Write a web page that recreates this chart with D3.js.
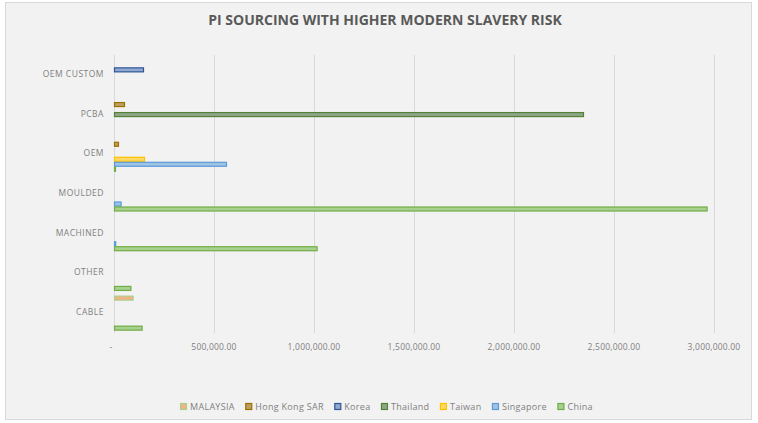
<!DOCTYPE html>
<html>
<head>
<meta charset="utf-8">
<script src="https://cdn.jsdelivr.net/npm/d3@7"></script>
<style>
  body { margin: 0; background: #fff; }
  text { font-family: "Open Sans", "Liberation Sans", sans-serif; }
</style>
</head>
<body>
<script>
// categories top to bottom, as shown
const categories = ['OEM CUSTOM', 'PCBA', 'OEM', 'MOULDED', 'MACHINED', 'OTHER', 'CABLE'];
const series = ['MALAYSIA', 'Hong Kong SAR', 'Korea', 'Thailand', 'Taiwan', 'Singapore', 'China'];

// values per series, same order as categories
const malaysia    = [0, 0, 0, 0, 0, 0, 93000];
const hongKongSAR = [0, 50000, 20000, 0, 0, 0, 0];
const korea       = [145000, 0, 0, 0, 0, 0, 0];
const thailand    = [0, 2345000, 0, 0, 0, 0, 0];
const taiwan      = [0, 0, 150000, 0, 0, 0, 0];
const singapore   = [0, 0, 560000, 33000, 6000, 0, 0];
const china       = [0, 0, 5000, 2963000, 1013000, 82000, 138000];

const tickValues = [0, 500000, 1000000, 1500000, 2000000, 2500000, 3000000];

const seriesValues = [malaysia, hongKongSAR, korea, thailand, taiwan, singapore, china];
const fills   = ['#f4b183', '#bf9f5f', '#8fa9d0', '#8fa58a', '#ffd966', '#9dc3e6', '#a9d18e'];
const strokes = ['#a9d18e', '#997300', '#2f5597', '#548235', '#ffc000', '#5b9bd5', '#70ad47'];

const W = 758, H = 423;
const plot = { left: 114, right: 714, top: 55, bottom: 333 };

const svg = d3.select('body').append('svg')
    .attr('width', W)
    .attr('height', H);

// chart background + border
svg.append('rect')
    .attr('x', 5.5).attr('y', 2.5)
    .attr('width', 746).attr('height', 417)
    .attr('fill', '#f2f2f2')
    .attr('stroke', '#d9d9d9');

svg.append('text')
    .attr('x', 385).attr('y', 25)
    .attr('text-anchor', 'middle')
    .attr('fill', '#595959')
    .style('font-size', '14px')
    .style('font-weight', 'bold')
    .text('PI SOURCING WITH HIGHER MODERN SLAVERY RISK');

const x = d3.scaleLinear()
    .domain([0, 3000000])
    .range([plot.left, plot.right]);

const y = d3.scaleBand()
    .domain(categories)
    .range([plot.top, plot.bottom]);

const ySub = d3.scaleBand()
    .domain(series)
    .range([0, y.bandwidth()])
    .paddingOuter(0.47);

// vertical gridlines
svg.append('g')
    .selectAll('line')
    .data(tickValues)
    .enter().append('line')
    .attr('x1', d => x(d) + 0.5).attr('x2', d => x(d) + 0.5)
    .attr('y1', plot.top).attr('y2', plot.bottom)
    .attr('stroke', '#d9d9d9');

// x tick labels
const fmt = d3.format(',.2f');
svg.append('g')
    .selectAll('text')
    .data(tickValues)
    .enter().append('text')
    .attr('x', d => d === 0 ? x(d) - 3 : x(d))
    .attr('y', 350)
    .attr('text-anchor', 'middle')
    .attr('fill', '#7f7f7f')
    .style('font-size', '8.5px')
    .style('letter-spacing', '0.2px')
    .text(d => d === 0 ? '-' : fmt(d));

// category labels
svg.append('g')
    .selectAll('text')
    .data(categories)
    .enter().append('text')
    .attr('x', 104)
    .attr('y', d => y(d) + y.bandwidth() / 2 - 1)
    .attr('dy', '0.35em')
    .attr('text-anchor', 'end')
    .attr('fill', '#7f7f7f')
    .style('font-size', '8.5px')
    .style('letter-spacing', '0.5px')
    .text(d => d);

// bars
const bars = [];
series.forEach((s, si) => {
    categories.forEach((c, ci) => {
        const v = seriesValues[si][ci];
        if (v > 0) bars.push({ s, si, c, v });
    });
});

svg.append('g')
    .selectAll('rect')
    .data(bars)
    .enter().append('rect')
    .attr('x', x(0) + 0.5)
    .attr('y', d => y(d.c) + ySub(d.s) + 0.5)
    .attr('width', d => Math.max(x(d.v) - x(0), 1))
    .attr('height', ySub.bandwidth() - 1)
    .attr('fill', d => fills[d.si])
    .attr('stroke', d => strokes[d.si])
    .attr('stroke-width', 1.2);

// legend
const legend = svg.append('g').attr('transform', 'translate(0, 408)');
let lx = 180;
series.forEach((s, i) => {
    const g = legend.append('g').attr('transform', `translate(${lx}, 0)`);
    g.append('rect')
        .attr('x', 0.5).attr('y', -4.5)
        .attr('width', 6).attr('height', 6)
        .attr('fill', fills[i])
        .attr('stroke', strokes[i])
        .attr('stroke-width', 1.2);
    const t = g.append('text')
        .attr('x', 10).attr('y', 2)
        .attr('fill', '#7f7f7f')
        .style('font-size', '9px')
        .style('letter-spacing', '0.3px')
        .text(s);
    lx += 10 + t.node().getComputedTextLength() + 10.5;
});
</script>
</body>
</html>
